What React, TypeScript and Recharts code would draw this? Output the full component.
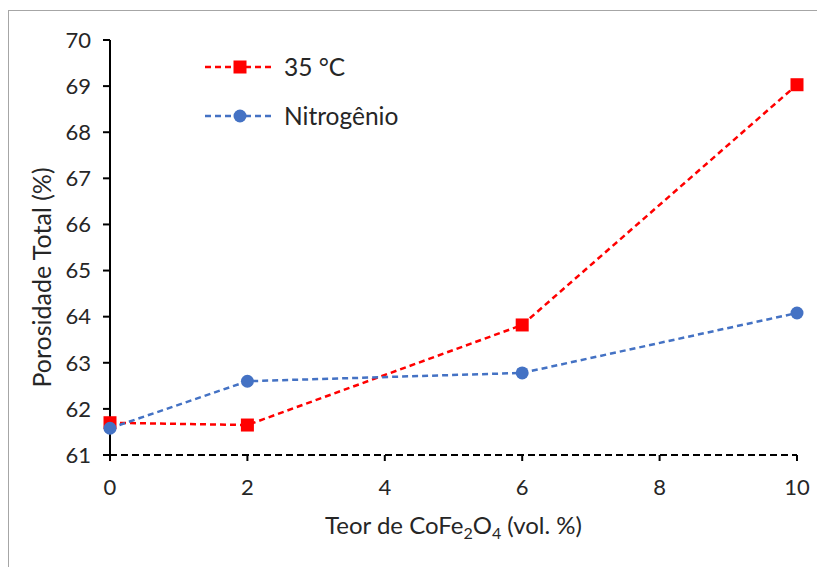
import React from 'react';
import { LineChart, Line, XAxis, YAxis, Legend, Label } from 'recharts';

// Teor de CoFe2O4 (vol. %)
const teor = [0, 2, 6, 10];
const porosidade35C = [61.7, 61.65, 63.82, 69.03];
const porosidadeN2 = [61.58, 62.6, 62.78, 64.08];
const xTicks = [0, 2, 4, 6, 8, 10];
const yTicks = [61, 62, 63, 64, 65, 66, 67, 68, 69, 70];

const RED = '#FF0000';
const BLUE = '#4472C4';
const TEXT = '#262626';
const FONT = 'Lato, "Open Sans", sans-serif';

const data = teor.map((x, i) => ({ x, t35: porosidade35C[i], n2: porosidadeN2[i] }));

const SquareDot = (props: any) => {
  const { cx, cy, index } = props;
  if (cx == null || cy == null) return null;
  return <rect key={`sq-${index}`} x={cx - 6.5} y={cy - 6.5} width={13} height={13} fill={RED} />;
};

const CircleDot = (props: any) => {
  const { cx, cy, index } = props;
  if (cx == null || cy == null) return null;
  return <circle key={`ci-${index}`} cx={cx} cy={cy} r={6.5} fill={BLUE} />;
};

const legendItems = [
  { name: '35 °C', color: RED, shape: 'square' },
  { name: 'Nitrogênio', color: BLUE, shape: 'circle' }
];

const CustomLegend = () => (
  <div style={{ fontFamily: FONT, color: TEXT }}>
    {legendItems.map((item) => (
      <div key={item.name} style={{ display: 'flex', alignItems: 'center', height: 49 }}>
        <svg width={74} height={16}>
          <line x1={2} y1={8} x2={72} y2={8} stroke={item.color} strokeWidth={2.5} strokeDasharray="6 4" />
          {item.shape === 'square' ? (
            <rect x={30.5} y={1.5} width={13} height={13} fill={item.color} />
          ) : (
            <circle cx={37} cy={8} r={6.5} fill={item.color} />
          )}
        </svg>
        <span style={{ fontSize: 24.5, marginLeft: 7 }}>{item.name}</span>
      </div>
    ))}
  </div>
);

const XTitle = (props: any) => {
  const { viewBox } = props;
  const cx = viewBox.x + viewBox.width / 2;
  const y = viewBox.y + 79;
  return (
    <text x={cx} y={y} textAnchor="middle" fill={TEXT} fontSize={24} fontFamily={FONT}>
      <tspan>Teor de CoFe</tspan>
      <tspan fontSize={16} dy={5}>2</tspan>
      <tspan dy={-5}>O</tspan>
      <tspan fontSize={16} dy={5}>4</tspan>
      <tspan dy={-5}> (vol. %)</tspan>
    </text>
  );
};

const YTitle = (props: any) => {
  const { viewBox } = props;
  const cx = viewBox.x + 1;
  const cy = viewBox.y + viewBox.height / 2 + 30;
  return (
    <text
      x={cx}
      y={cy}
      textAnchor="middle"
      dominantBaseline="central"
      fill={TEXT}
      fontSize={25}
      fontFamily={FONT}
      transform={`rotate(-90, ${cx}, ${cy})`}
    >
      Porosidade Total (%)
    </text>
  );
};

export default function App() {
  return (
    <>
      <style>{'html, body { overflow: hidden; }'}</style>
      <div
        style={{
          position: 'fixed',
          left: 8,
          top: 10,
          width: 830,
          height: 580,
          overflow: 'hidden',
          borderTop: '1px solid #a6a6a6',
          borderLeft: '1px solid #a6a6a6',
          background: '#fff'
        }}
      >
        <LineChart
          width={808}
          height={556}
          data={data}
          margin={{ top: 29, right: 20, left: 31, bottom: 52 }}
        >
          <XAxis
            dataKey="x"
            type="number"
            domain={[0, 10]}
            ticks={xTicks}
            interval={0}
            height={60}
            axisLine={{ stroke: '#000', strokeWidth: 2, strokeDasharray: '7 4' }}
            tickLine={{ stroke: '#000', strokeWidth: 2 }}
            tickSize={6}
            tickMargin={18}
            tick={{ fill: TEXT, fontSize: 22, fontFamily: FONT }}
          >
            <Label content={<XTitle />} />
          </XAxis>
          <YAxis
            type="number"
            domain={[61, 70]}
            ticks={yTicks}
            interval={0}
            width={70}
            axisLine={{ stroke: '#000', strokeWidth: 2 }}
            tickLine={{ stroke: '#000', strokeWidth: 2 }}
            tickSize={7}
            tickMargin={12}
            tick={{ fill: TEXT, fontSize: 22, fontFamily: FONT }}
          >
            <Label content={<YTitle />} />
          </YAxis>
          <Legend
            layout="vertical"
            align="center"
            verticalAlign="middle"
            content={<CustomLegend />}
            wrapperStyle={{ top: 31, left: 194, width: 260, height: 100 }}
          />
          <Line
            name="35 °C"
            dataKey="t35"
            stroke={RED}
            strokeWidth={2.5}
            strokeDasharray="6 4"
            dot={SquareDot}
            activeDot={false}
            isAnimationActive={false}
          />
          <Line
            name="Nitrogênio"
            dataKey="n2"
            stroke={BLUE}
            strokeWidth={2.5}
            strokeDasharray="6 4"
            dot={CircleDot}
            activeDot={false}
            isAnimationActive={false}
          />
        </LineChart>
      </div>
    </>
  );
}
